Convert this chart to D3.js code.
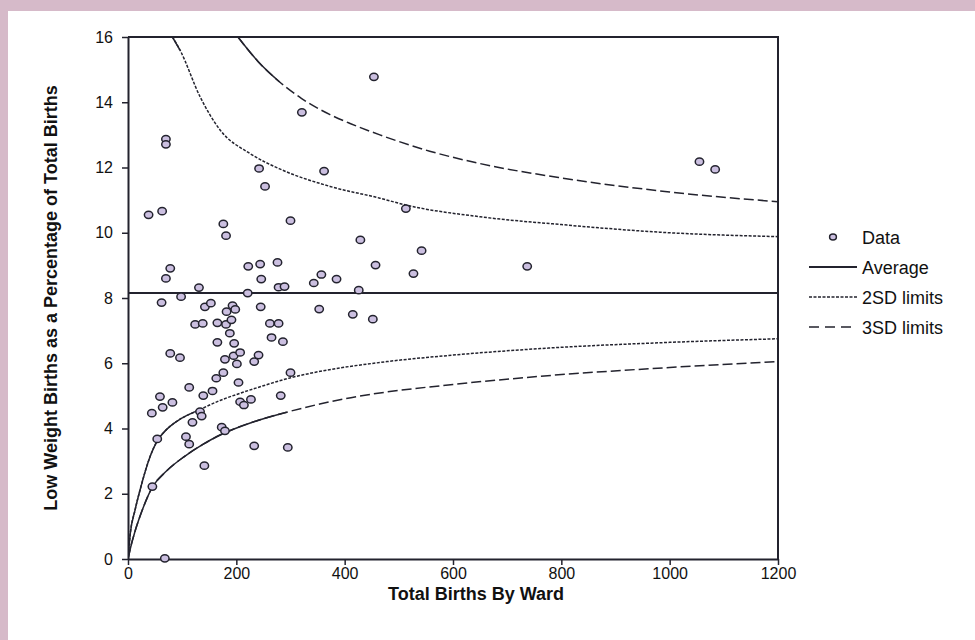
<!DOCTYPE html>
<meta charset="utf-8">
<script src="https://d3js.org/d3.v7.min.js"></script>
<style>
	body{
		margin:0;
		font-family: 'Liberation Sans', Arial, sans-serif;
	}
	svg{display:block;}
</style>
<div id="chart"></div>

<script>

// ward data: [total births, low weight %]
var births = [62,98,142,153,124,138,165,181,182,193,198,191,188,196,165,245,262,278,265,286,353,415,452,
	78,96,179,195,207,201,233,241,300,176,163,204,113,156,139,59,64,82,44,207,214,227,282,133,136,119,
	54,107,113,173,179,233,295,141,45,68,
	70,70,38,63,176,181,242,253,300,78,70,131,222,244,276,246,278,289,221,
	454,321,362,513,429,542,457,527,737,343,357,385,426,1055,1084]
var lowPct = [7.86,8.04,7.73,7.84,7.19,7.22,7.24,7.19,7.58,7.77,7.65,7.33,6.92,6.61,6.64,7.73,7.22,7.22,6.79,6.66,7.66,7.50,7.35,
	6.30,6.17,6.12,6.23,6.33,5.98,6.05,6.25,5.71,5.71,5.54,5.41,5.26,5.15,5.01,4.98,4.65,4.80,4.47,4.82,4.72,4.89,5.01,4.52,4.38,4.19,
	3.68,3.75,3.52,4.04,3.93,3.47,3.42,2.86,2.22,0.02,
	12.87,12.71,10.55,10.66,10.27,9.91,11.97,11.42,10.37,8.91,8.60,8.32,8.97,9.04,9.09,8.58,8.33,8.35,8.15,
	14.78,13.69,11.89,10.74,9.78,9.45,9.01,8.75,8.97,8.46,8.72,8.58,8.24,12.18,11.94]

var average = 8.15

// control limits: [births, %]
var upper3SD = [[203,16],[240,15.25],[280,14.62],[320,14.12],[373,13.62],[410,13.35],[465,13.0],[557,12.5],[650,12.12],[800,11.68],[1000,11.25],[1200,10.95]]
var upper2SD = [[82,16],[96,15.6],[133,14.17],[170,13.15],[225,12.43],[281,11.95],[373,11.42],[465,11.06],[513,10.85],[650,10.49],[800,10.25],[1000,10.0],[1200,9.88]]
var lower2SD = [[0,0],[4,0.75],[13,1.5],[22,2.1],[41,3.15],[54,3.62],[70,3.95],[90,4.22],[133,4.58],[170,4.86],[207,5.08],[244,5.28],[299,5.55],[336,5.69],[478,6.05],[600,6.25],[761,6.45],[1000,6.64],[1200,6.75]]
var lower3SD = [[0,0],[4,0.3],[13,0.85],[22,1.3],[45,2.2],[70,2.68],[104,3.14],[139,3.52],[170,3.8],[231,4.2],[293,4.5],[354,4.75],[402,4.92],[453,5.06],[600,5.35],[761,5.6],[1000,5.87],[1200,6.05]]

var xTicks = [0,200,400,600,800,1000,1200]
var yTicks = [0,2,4,6,8,10,12,14,16]
var legendItems = ["Data","Average","2SD limits","3SD limits"]

var W = 975, H = 640
var plotL = 128, plotR = 778, plotT = 37, plotB = 559
var ink = "#23232e"

var svg = d3.select("#chart").append("svg").attr("width",W).attr("height",H)

svg.append("rect").attr("width",W).attr("height",H).attr("fill","#d6bac9")
svg.append("rect").attr("x",8).attr("y",11).attr("width",W-8).attr("height",H-11).attr("fill","#fff")

var x = d3.scaleLinear().domain([0,1200]).range([plotL,plotR])
var y = d3.scaleLinear().domain([0,16]).range([plotB,plotT])

svg.append("clipPath").attr("id","plotClip")
	.append("rect").attr("x",plotL).attr("y",plotT).attr("width",plotR-plotL).attr("height",plotB-plotT)

// frame top/right
svg.append("path")
	.attr("d","M"+plotL+","+plotT+"H"+plotR+"V"+plotB)
	.attr("fill","none").attr("stroke",ink).attr("stroke-width",2)

var xAxis = svg.append("g").attr("transform","translate(0,"+plotB+")")
	.call(d3.axisBottom(x).tickValues(xTicks).tickFormat(d3.format("d")).tickSize(6).tickPadding(3).tickSizeOuter(0))
var yAxis = svg.append("g").attr("transform","translate("+plotL+",0)")
	.call(d3.axisLeft(y).tickValues(yTicks).tickFormat(d3.format("d")).tickSize(6).tickPadding(9).tickSizeOuter(0))

svg.selectAll(".domain").attr("stroke",ink).attr("stroke-width",2)
svg.selectAll(".tick line").attr("stroke",ink).attr("stroke-width",1.5)
svg.selectAll(".tick text").attr("fill","#111").style("font-size","16px").style("font-family","'Liberation Sans', Arial, sans-serif")

// axis titles
svg.append("text").attr("x",476).attr("y",600).attr("text-anchor","middle")
	.style("font-size","18px").style("font-weight","bold").attr("fill","#111")
	.text("Total Births By Ward")
svg.append("text").attr("transform","translate(57,"+y(8)+") rotate(-90)").attr("text-anchor","middle")
	.style("font-size","18px").style("font-weight","bold").attr("fill","#111")
	.text("Low Weight Births as a Percentage of Total Births")

// average line
svg.append("line").attr("x1",x(0)).attr("x2",x(1200)).attr("y1",y(average)).attr("y2",y(average))
	.attr("stroke",ink).attr("stroke-width",2)

var line = d3.line().x(d=>x(d[0])).y(d=>y(d[1])).curve(d3.curveMonotoneX)
var curves = svg.append("g").attr("clip-path","url(#plotClip)")

// each limit: steep part looks solid in the original, rest dashed
function drawLimit(pts, dash, solidTo){
	curves.append("path").attr("d",line(pts)).attr("fill","none")
		.attr("stroke",ink).attr("stroke-width",1.5).attr("stroke-dasharray",dash)
	curves.append("path").attr("d",line(pts.filter(p=>p[0]<=solidTo))).attr("fill","none")
		.attr("stroke",ink).attr("stroke-width",1.5)
}
drawLimit(upper3SD,"10,4",280)
drawLimit(lower3SD,"10,4",293)
drawLimit(upper2SD,"3,1.5",96)
drawLimit(lower2SD,"3,1.5",133)

// data points
svg.append("g").selectAll("ellipse")
	.data(births.map((b,i)=>[b,lowPct[i]]))
	.join("ellipse")
	.attr("cx",d=>x(d[0])).attr("cy",d=>y(d[1]))
	.attr("rx",4.2).attr("ry",3.6)
	.attr("fill","#cbbfe0").attr("stroke",ink).attr("stroke-width",1.5)

// legend
var lg = svg.append("g").style("font-size","18px").attr("fill","#111")
var ly = [237,267,297,327]
lg.append("ellipse").attr("cx",833).attr("cy",ly[0]).attr("rx",3.4).attr("ry",3)
	.attr("fill","#cbbfe0").attr("stroke",ink).attr("stroke-width",1.5)
lg.append("line").attr("x1",809).attr("x2",857).attr("y1",ly[1]).attr("y2",ly[1]).attr("stroke",ink).attr("stroke-width",2)
lg.append("line").attr("x1",809).attr("x2",857).attr("y1",ly[2]).attr("y2",ly[2]).attr("stroke",ink).attr("stroke-width",1.5).attr("stroke-dasharray","3,1.5")
lg.append("line").attr("x1",809).attr("x2",851).attr("y1",ly[3]).attr("y2",ly[3]).attr("stroke",ink).attr("stroke-width",1.5).attr("stroke-dasharray","10,6")
lg.selectAll("text").data(legendItems).join("text")
	.attr("x",862).attr("y",(d,i)=>ly[i]+7)
	.text(d=>d)

</script>
